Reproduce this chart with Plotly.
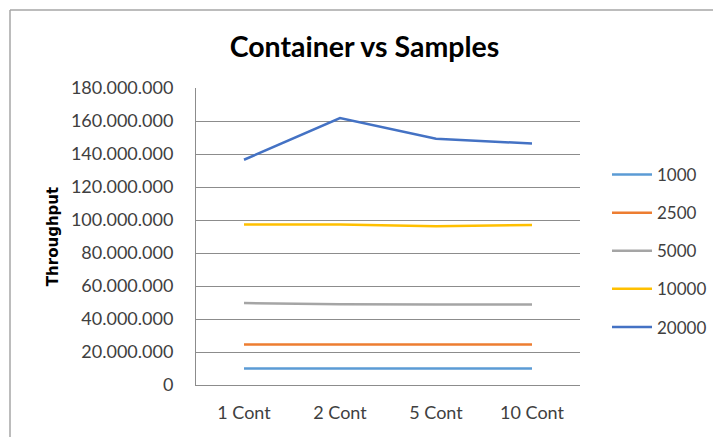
import plotly.graph_objects as go

categories = ["1 Cont", "2 Cont", "5 Cont", "10 Cont"]
series_names = ["1000", "2500", "5000", "10000", "20000"]
s1000 = [10_000_000, 10_000_000, 10_000_000, 10_000_000]
s2500 = [24_500_000, 24_500_000, 24_500_000, 24_500_000]
s5000 = [49_700_000, 48_900_000, 48_800_000, 48_800_000]
s10000 = [97_200_000, 97_200_000, 96_200_000, 97_000_000]
s20000 = [136_500_000, 161_800_000, 149_300_000, 146_300_000]
y_ticks = [0, 20_000_000, 40_000_000, 60_000_000, 80_000_000, 100_000_000,
           120_000_000, 140_000_000, 160_000_000, 180_000_000]

colors = ["#5B9BD5", "#ED7D31", "#A5A5A5", "#FFC000", "#4472C4"]
all_series = [s1000, s2500, s5000, s10000, s20000]

# page body has an 8px margin; figure sized to fit inside the 721x437 window
OFF = 8
W, H = 721 - OFF, 437 - OFF
L, T = 196 - OFF, 88 - OFF
R = W - (580 - OFF)
B = H - (385 - OFF)

def px_to_paper_x(px):
    return (px - OFF - L) / (W - L - R)

def px_to_paper_y(py):
    return (H - B - (py - OFF)) / (H - T - B)

FONT = "Lato, Open Sans, sans-serif"

fig = go.Figure()
for name, vals, c in zip(series_names, all_series, colors):
    fig.add_trace(go.Scatter(x=categories, y=vals, name=name, mode="lines",
                             line=dict(color=c, width=2.5), legendgroup=name))

fig.update_layout(
    width=W, height=H,
    margin=dict(l=L, r=R, t=T, b=B, autoexpand=False),
    plot_bgcolor="white", paper_bgcolor="white",
    separators=",.",
    title=dict(text="<b>Container vs Samples</b>", x=0.5, xanchor="center",
               y=1 - (47 - OFF) / H, yanchor="middle",
               font=dict(family=FONT, size=28.5, color="#000000")),
    xaxis=dict(showgrid=False, showline=True, linecolor="#8C8C8C", linewidth=1,
               ticks="", ticklabelstandoff=11,
               tickfont=dict(family=FONT, size=18, color="#404040"),
               range=[-0.5, 3.5], fixedrange=True),
    yaxis=dict(range=[0, 180_000_000], tickvals=y_ticks, tickformat=",d",
               showgrid=True, gridcolor="#8C8C8C", gridwidth=1,
               showline=True, linecolor="#8C8C8C", linewidth=1,
               zeroline=False, ticks="", ticklabelstandoff=18,
               tickfont=dict(family=FONT, size=18, color="#404040"),
               title=dict(text="<b>Throughput</b>", standoff=8,
                          font=dict(family="DejaVu Sans, Verdana, sans-serif", size=15, color="#000000"))),
    legend=dict(x=px_to_paper_x(607), xanchor="left", y=px_to_paper_y(157), yanchor="top",
                font=dict(family=FONT, size=17, color="#404040"),
                tracegroupgap=13, itemwidth=40, bgcolor="rgba(0,0,0,0)"),
    showlegend=True,
    shapes=[
        dict(type="line", xref="paper", yref="paper",
             x0=px_to_paper_x(10), x1=px_to_paper_x(10),
             y0=px_to_paper_y(10), y1=px_to_paper_y(437),
             line=dict(color="#A6A6A6", width=1.5)),
        dict(type="line", xref="paper", yref="paper",
             x0=px_to_paper_x(10), x1=px_to_paper_x(721),
             y0=px_to_paper_y(10), y1=px_to_paper_y(10),
             line=dict(color="#A6A6A6", width=1.5)),
    ],
)

fig.write_html("out.html")
